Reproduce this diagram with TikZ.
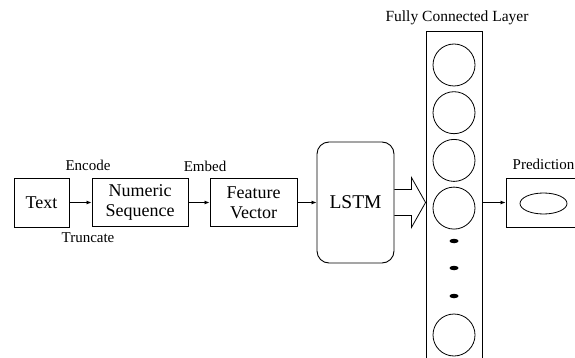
\documentclass[tikz,border=0pt]{standalone}
\usepackage{fontspec}
\setmainfont{Liberation Serif}
\usetikzlibrary{arrows.meta, shapes.geometric}

\begin{document}
\begin{tikzpicture}[
        x=1pt, y=-1pt,
        box/.style={draw, line width=0.9pt, align=center, inner sep=0pt, font=\fontsize{18}{20}\selectfont},
        lbl/.style={font=\fontsize{15}{18}\selectfont, inner sep=0pt},
        neuron/.style={draw, line width=0.8pt, circle, minimum size=42pt, inner sep=0pt},
        dot/.style={fill=black, ellipse, minimum width=9pt, minimum height=4.5pt, inner sep=0pt},
        arr/.style={-{Latex[length=5pt,width=4pt]}, line width=0.8pt},
        hollow/.style={line width=0.8pt, line join=miter}
      ]
        \clip (0,0) rectangle (575,358);
        \node[box, minimum width=55pt, minimum height=49pt] (text) at (41.5,202.5) {Text};
        \node[box, minimum width=96pt, minimum height=48pt] (numseq) at (140,202.5) {Numeric\\Sequence};
        \node[box, minimum width=87pt, minimum height=48pt] (featvec) at (253.5,202.5) {Feature\\Vector};
        \node[box, rounded corners=12pt, minimum width=77pt, minimum height=121pt,
          font=\fontsize{19.5}{22}\selectfont] (lstm) at (355.5,202.5) {LSTM};
        \node[box, minimum width=56pt, minimum height=338pt] (fc) at (454,200) {};
        \node[box, minimum width=90pt, minimum height=49pt] (pred) at (551,202.5) {};
        \node[draw, line width=0.8pt, ellipse, minimum width=47pt, minimum height=21pt, inner sep=0pt] (out) at (543.5,203.5) {};

        \foreach \i in {1,...,4} {
          \node[neuron] (n\i) at (454, {65+47.7*(\i-1)}) {};
        }
        \node[neuron] (n5) at (454,335) {};
        \foreach \y [count=\i] in {241,268,296} {
          \node[dot] (d\i) at (454,\y) {};
        }

        \draw[arr] (text) -- (numseq);
        \draw[arr] (numseq) -- (featvec);
        \draw[arr] (featvec) -- (lstm);
        \draw[arr] (fc.east |- pred.west) -- (pred.west);
        \draw[hollow] ([yshift=13pt]lstm.east) -- ++(17pt,0) -- ++(0,12pt) -- (fc.west |- lstm.east)
          -- ([xshift=17pt,yshift=-25pt]lstm.east) -- ++(0,12pt) -- ([yshift=-13pt]lstm.east);

        \node[lbl] (enc) at (88,165) {Encode};
        \node[lbl] (trunc) at (88,237.5) {Truncate};
        \node[lbl] (emb) at (205,166.5) {Embed};
        \node[lbl, font=\fontsize{15.5}{18}\selectfont] (fctitle) at (457,18) {Fully Connected Layer};
        \node[lbl, anchor=west] (predtitle) at (512.5,164) {Prediction};
      \end{tikzpicture}
\end{document}
